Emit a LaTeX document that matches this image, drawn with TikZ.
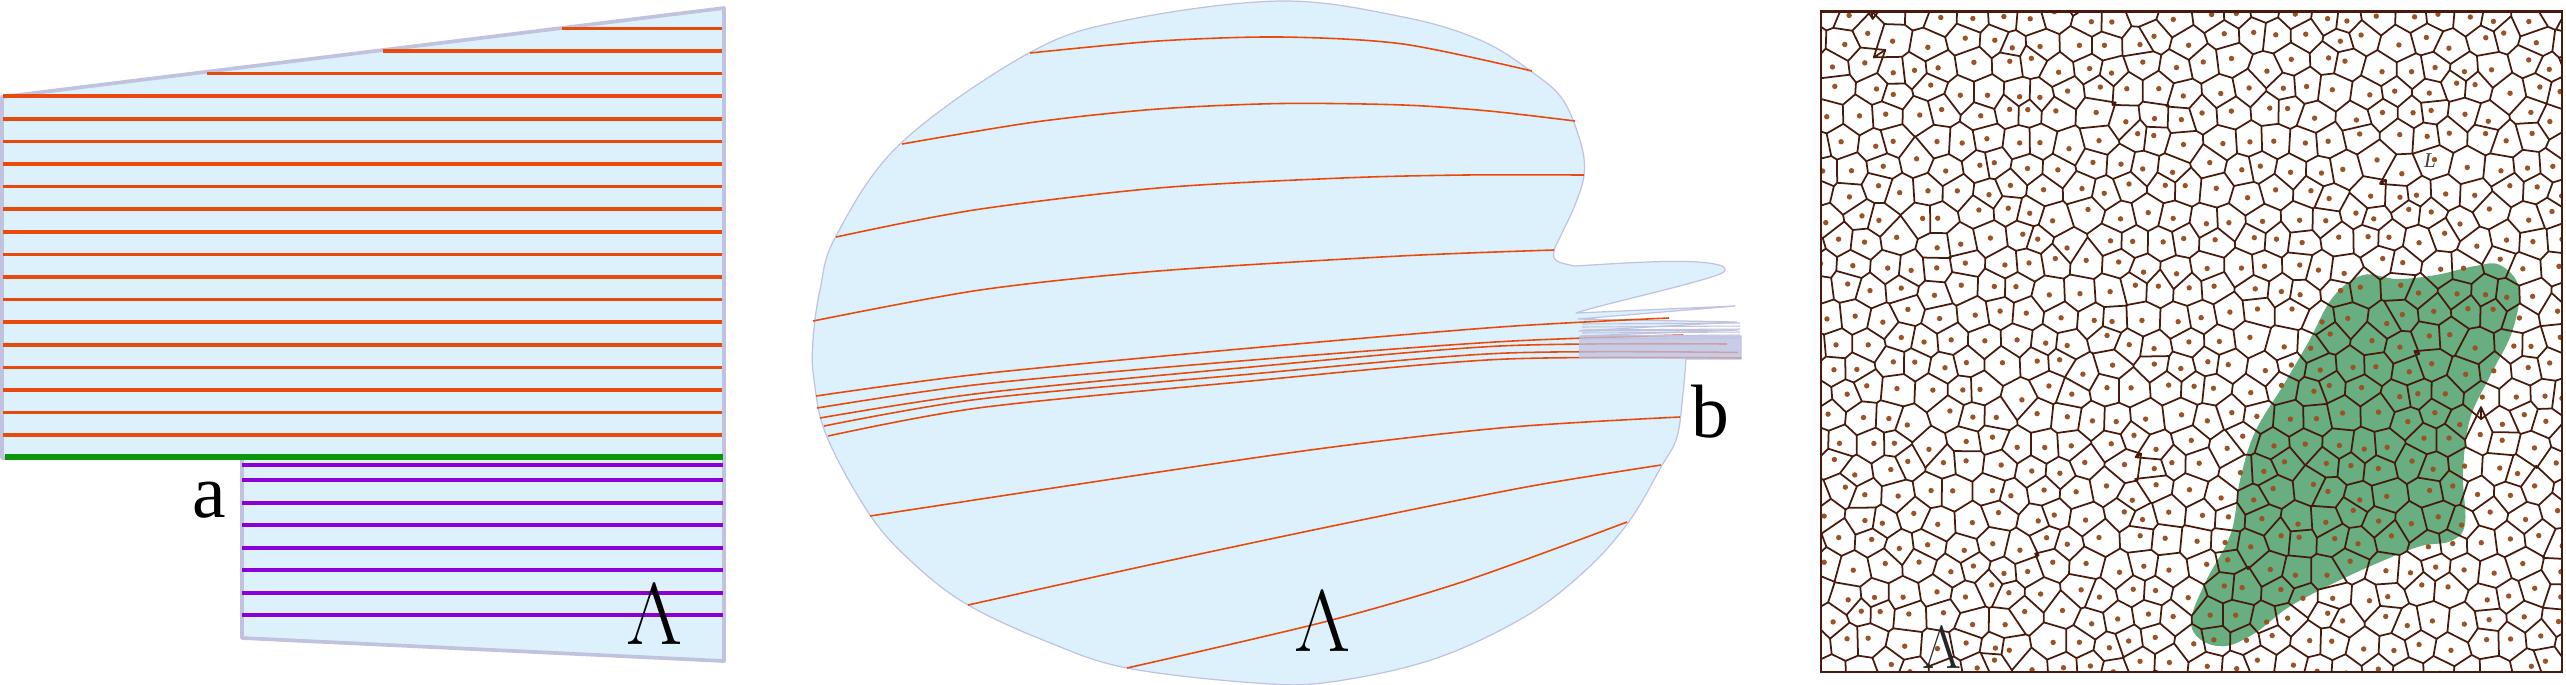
\documentclass[tikz,border=0pt]{standalone}
\usepackage{fontspec}
\setmainfont{Liberation Serif}
\definecolor{lblue}{RGB}{220,241,251}
\definecolor{lav}{RGB}{192,194,224}
\definecolor{orng}{RGB}{232,74,12}
\definecolor{grn}{RGB}{10,152,10}
\definecolor{purp}{RGB}{138,0,214}
\definecolor{vbrown}{RGB}{72,26,12}
\definecolor{vdotc}{RGB}{155,82,36}
\definecolor{vgreen}{RGB}{104,174,128}
\tikzset{
  panelA/.style={fill=lblue, draw=lav, line width=1.05pt, line join=round},
  oline/.style={draw=orng, line width=1pt},
  gline/.style={draw=grn, line width=1.6pt},
  pline/.style={draw=purp, line width=0.95pt},
  blob/.style={fill=lblue, draw=lav, line width=0.35pt, line join=round},
  thinor/.style={draw=orng, line width=0.45pt},
  lab/.style={font=\fontsize{21.5pt}{24pt}\selectfont, inner sep=0pt, anchor=base},
  biglam/.style={font=\fontsize{24pt}{26pt}\selectfont, inner sep=0pt, anchor=base},
  vedge/.style={draw=vbrown, line width=0.5pt, line join=round, line cap=round},
  vdot/.style={fill=vdotc},
  vframe/.style={draw=vbrown, line width=0.8pt},
}
\newcommand\vqcirc[7]{%
  \edef\vqax{\csname vx#2-#3\endcsname}%
  \edef\vqay{\csname vy#2-#3\endcsname}%
  \pgfmathsetmacro\vqbx{(\csname vx#4-#5\endcsname-(\vqax))/25}%
  \pgfmathsetmacro\vqby{(\csname vy#4-#5\endcsname-(\vqay))/25}%
  \pgfmathsetmacro\vqcx{(\csname vx#6-#7\endcsname-(\vqax))/25}%
  \pgfmathsetmacro\vqcy{(\csname vy#6-#7\endcsname-(\vqay))/25}%
  \pgfmathsetmacro\vqbb{(\vqbx)*(\vqbx)+(\vqby)*(\vqby)}%
  \pgfmathsetmacro\vqcs{(\vqcx)*(\vqcx)+(\vqcy)*(\vqcy)}%
  \pgfmathsetmacro\vqdd{2*((\vqbx)*(\vqcy)-(\vqby)*(\vqcx))}%
  \pgfmathsetmacro\vqux{\vqax+25*((\vqcy)*(\vqbb)-(\vqby)*(\vqcs))/(\vqdd)}%
  \pgfmathsetmacro\vquy{\vqay+25*((\vqbx)*(\vqcs)-(\vqcx)*(\vqbb))/(\vqdd)}%
  \expandafter\xdef\csname cx#1\endcsname{\vqux}%
  \expandafter\xdef\csname cy#1\endcsname{\vquy}%
}
\begin{document}
\begin{tikzpicture}[x=0.01cm,y=-0.01cm]
\useasboundingbox (0,0) rectangle (2566,684);

% ---------------- left panel ----------------
\path[panelA] (2,97) -- (724,8) -- (724,661) -- (242,638) -- (242,458) -- (2,458) -- cycle;
\draw[oline] (562,28.4) -- (722,28.4);
\draw[oline] (383,51) -- (722,51);
\draw[oline] (207,73.6) -- (722,73.6);
\foreach \k in {3,...,18}{
  \draw[oline] (3,28.4+22.6*\k) -- (722,28.4+22.6*\k);
}
\draw[gline] (5,457) -- (723,457);
\foreach \yy in {465,480,503,525,548,570,593,615}{
  \draw[pline] (242,\yy) -- (723,\yy);
}
\node[lab] (la) at (209,517) {a};
\node[biglam] (lL) at (655,644) {$\Lambda$};

% ---------------- middle panel ----------------
\filldraw[blob] plot[smooth, tension=0.6] coordinates {
 (1686,359) (1683,393) (1677,437) (1661,467) (1630,520) (1588,568) (1526,616)
 (1434,659) (1330,682) (1256,683) (1127,668) (1048,642) (968,605) (913,563)
 (870,515) (827,437) (814,380) (813,340) (820,290) (836,236) (900,144)
 (1029,53) (1127,20) (1281,1) (1403,17) (1480,40) (1532,72) (1563,100)
 (1581,144) (1584,175) (1575,205) (1563,231) (1554,251) (1557,261) (1575,266)}
 .. controls (1640,262) and (1700,258) .. (1722,266)
 .. controls (1730,271) and (1722,274) .. (1705,279)
 .. controls (1660,292) and (1600,305) .. (1576,313)
 -- (1735,306) -- (1578,319) -- (1737,322) -- (1579,331) -- (1738,330)
 -- (1580,336) -- (1741,336) -- (1741,359) -- cycle;

\draw[thinor] plot[smooth] coordinates {(1030,53) (1158,41) (1281,37) (1403,44) (1532,71)};
\draw[thinor] plot[smooth] coordinates {(902,144) (1035,122) (1158,109) (1281,103.5) (1403,105) (1489,111) (1575,121)};
\draw[thinor] plot[smooth] coordinates {(836,237) (974,210) (1158,188) (1342,178) (1465,175) (1584,175)};
\draw[thinor] plot[smooth] coordinates {(813,321) (980,290) (1158,271) (1400,256) (1554,250)};
\draw[thinor] plot[smooth] coordinates {(816,396) (980,374) (1240,349) (1500,327) (1669,318)};
\draw[thinor] plot[smooth] coordinates {(817,408) (980,384.3) (1240,361) (1500,341.7) (1683,335)};
\draw[thinor] plot[smooth] coordinates {(820,418) (980,393.3) (1240,368) (1500,346) (1727,344)};
\draw[thinor] plot[smooth] coordinates {(824,426) (980,399) (1240,375) (1500,353.3) (1738,352.5)};
\draw[thinor] plot[smooth] coordinates {(828,436) (980,407.7) (1240,382) (1500,359.3) (1741,358)};
\draw[thinor] plot[smooth] coordinates {(870,516) (1281,454) (1500,428) (1680,417)};
\draw[thinor] plot[smooth] coordinates {(968,605) (1158,563) (1342,524) (1526,487) (1661,465)};
\draw[thinor] plot[smooth] coordinates {(1127,668) (1324,622) (1465,581) (1627,522)};

\fill[lav, opacity=0.75] (1579,336) rectangle (1741,359);
\foreach \yy in {324,327,330,333,336,339}{
  \draw[lav, line width=0.3pt] (1582,\yy) -- (1740,\yy-1);
}
\node[biglam] (mL) at (1323,651) {$\Lambda$};
\node[lab] (mb) at (1710,437) {b};

% ---------------- right panel (Voronoi) ----------------
\pgfmathsetseed{11}
\foreach \j in {0,...,30}{
  \foreach \i in {0,...,30}{
    \pgfmathsetmacro\vqpx{1770+\i*29+mod(\j,2)*14.5+8*rand}
    \pgfmathsetmacro\vqpy{-35+\j*25.11+8*rand}
    \expandafter\xdef\csname vx\i-\j\endcsname{\vqpx}
    \expandafter\xdef\csname vy\i-\j\endcsname{\vqpy}
  }
}
\foreach \j in {0,...,29}{
  \pgfmathtruncatemacro\vqo{mod(\j,2)}
  \pgfmathtruncatemacro\vqjb{\j+1}
  \foreach \i in {0,...,29}{
    \pgfmathtruncatemacro\vqia{\i+1}
    \pgfmathtruncatemacro\vqib{\i+\vqo}
    \vqcirc{A\i-\j}{\i}{\j}{\vqia}{\j}{\vqib}{\vqjb}
  }
  \foreach \i in {0,...,28}{
    \pgfmathtruncatemacro\vqia{\i+1}
    \pgfmathtruncatemacro\vqib{\i+\vqo}
    \pgfmathtruncatemacro\vqic{\i+1+\vqo}
    \vqcirc{B\i-\j}{\vqib}{\vqjb}{\vqic}{\vqjb}{\vqia}{\j}
  }
}
\begin{scope}
\clip (1821,11.5) rectangle (2562,672);
\fill[vgreen] plot[smooth cycle, tension=0.6] coordinates {
 (2500,265) (2519,288) (2512,332) (2490,376) (2470,419) (2463,472) (2465,524)
 (2451,541) (2421,546) (2387,559) (2338,581) (2289,607) (2255,633) (2226,646)
 (2201,640) (2191,620) (2206,581) (2231,533) (2240,480) (2255,432) (2284,384)
 (2309,341) (2333,297) (2363,275) (2397,279) (2436,275) (2475,266)};
\foreach \j in {1,...,29}{
  \pgfmathtruncatemacro\vqop{mod(\j-1,2)}
  \pgfmathtruncatemacro\vqjm{\j-1}
  \foreach \i in {1,...,28}{
    \pgfmathtruncatemacro\vqim{\i-1}
    \pgfmathtruncatemacro\vqiq{\i-\vqop}
    \edef\vqXa{\csname cxA\i-\j\endcsname}\edef\vqYa{\csname cyA\i-\j\endcsname}
    \edef\vqXb{\csname cxB\i-\j\endcsname}\edef\vqYb{\csname cyB\i-\j\endcsname}
    \edef\vqXc{\csname cxB\vqim-\j\endcsname}\edef\vqYc{\csname cyB\vqim-\j\endcsname}
    \edef\vqXd{\csname cxB\vqiq-\vqjm\endcsname}\edef\vqYd{\csname cyB\vqiq-\vqjm\endcsname}
    \draw[vedge] (\vqXb,\vqYb) -- (\vqXa,\vqYa) -- (\vqXc,\vqYc) (\vqXa,\vqYa) -- (\vqXd,\vqYd);
  }
}
\foreach \j in {0,...,30}{
  \foreach \i in {0,...,30}{
    \edef\vqXa{\csname vx\i-\j\endcsname}\edef\vqYa{\csname vy\i-\j\endcsname}
    \fill[vdot] (\vqXa,\vqYa) circle[radius=0.027cm];
  }
}
\end{scope}
\draw[vframe] (1821,11.5) rectangle (2562,672);
\node[font=\fontsize{16pt}{18pt}\selectfont, text=black!85, inner sep=0pt, anchor=base] (vL) at (1942,668) {$\Lambda$};
\node[font=\fontsize{6pt}{7pt}\selectfont\itshape, text=black!75, inner sep=0pt] (vl) at (2430,161) {L};
\end{tikzpicture}
\end{document}
